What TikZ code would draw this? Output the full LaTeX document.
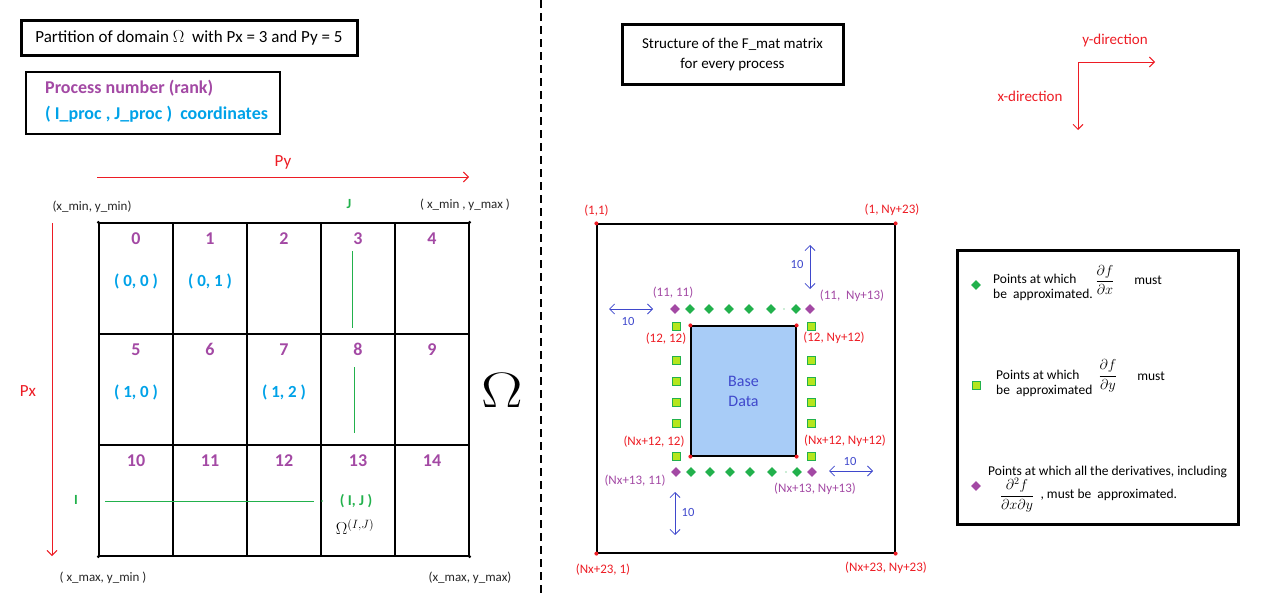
\documentclass[tikz,border=0pt]{standalone}
\usepackage[no-math]{fontspec}
\setmainfont{Carlito}
\usepackage{graphicx}
\usepackage{tikz}
\usetikzlibrary{positioning,shapes.geometric,arrows.meta}
\usepackage{xcolor}
\definecolor{rankpurple}{HTML}{A349A4}
\definecolor{coordcyan}{HTML}{00A2E8}
\definecolor{idxgreen}{HTML}{22B14C}
\definecolor{limegreen}{HTML}{B5E61D}
\definecolor{axisred}{HTML}{ED1C24}
\definecolor{dimblue}{HTML}{3F48CC}
\definecolor{basefill}{HTML}{A8CCF7}
\newcommand{\pxfont}[2]{\fontsize{#1}{#2}\selectfont}

\begin{document}
\begin{tikzpicture}[
      x=1pt, y=-1pt,
      >={Straight Barb[length=5pt,width=10pt]},
      every node/.style={inner sep=0pt, font=\pxfont{13}{15}},
      framebox/.style={draw, line width=3pt, align=center},
      cell/.style={draw, line width=1.2pt, minimum width=74pt, minimum height=111pt},
      rank/.style={text=rankpurple, font=\pxfont{18}{20}\bfseries},
      coordlab/.style={text=coordcyan, font=\pxfont{17}{20}\bfseries},
      cornerlab/.style={text=black!85},
      axisarrow/.style={->, line width=0.9pt, draw=axisred},
      axislab/.style={text=axisred, font=\pxfont{17}{20}},
      idx/.style={line width=1pt, draw=idxgreen},
      idxlab/.style={text=idxgreen, font=\pxfont{14}{16}\bfseries},
      redlab/.style={text=axisred},
      purplelab/.style={text=rankpurple},
      cornerdot/.style={circle, fill=axisred, minimum size=4pt},
      dxmark/.style={diamond, fill=idxgreen, minimum width=10pt, minimum height=10pt},
      dymark/.style={rectangle, draw=idxgreen, fill=limegreen, line width=0.8pt, minimum size=8pt},
      dxymark/.style={diamond, fill=rankpurple, minimum width=10pt, minimum height=10pt},
      dimarrow/.style={<->, line width=0.8pt, draw=dimblue},
      dimlab/.style={text=dimblue, font=\pxfont{12.5}{14}},
      frac/.style={font=\pxfont{14.4}{16}}
    ]
      \useasboundingbox (0,0) rectangle (1268,597);

      % left half: partition of the domain
      \node[framebox, minimum width=336pt, minimum height=35pt, font=\pxfont{17}{20}] (title) at (189,37.5)
        {Partition of domain $\Omega$\ \ with Px = 3 and Py = 5};
      \node[draw, line width=1.2pt, minimum width=254pt, minimum height=62pt] (key) at (153,103) {};
      \node[rank, anchor=west] (keyrank) at (45,88) {Process number (rank)};
      \node[coordlab, font=\pxfont{18}{20}\bfseries, below=26pt of keyrank.west, anchor=west] (keycoord)
        {( I\_proc , J\_proc )\ \ coordinates};

      \foreach \r in {0,1,2}
        \foreach \c in {0,...,4} {
          \pgfmathtruncatemacro{\rk}{5*\r+\c}
          \node[cell] (cell\rk) at ({136+74*\c},{278.5+111*\r}) {};
          \node[rank] (rank\rk) at ([yshift=-16pt]cell\rk.north) {\rk};
        }
      \foreach \a in {cell0.north west,cell4.north east,cell10.south west,cell14.south east}
        \fill (\a) circle (1.6pt);

      \node[coordlab] (coord0) at ([yshift=-3pt]cell0.center) {( 0, 0 )};
      \node[coordlab] (coord1) at ([yshift=-3pt]cell1.center) {( 0, 1 )};
      \node[coordlab] (coord5) at ([yshift=-3pt]cell5.center) {( 1, 0 )};
      \node[coordlab] (coord7) at ([yshift=-3pt]cell7.center) {( 1, 2 )};

      \node[cornerlab] (xminymin) at (92,207) {(x\_min, y\_min)};
      \node[cornerlab] (xminymax) at (465,205) {( x\_min , y\_max )};
      \node[cornerlab] (xmaxymin) at (103,578) {( x\_max, y\_min )};
      \node[cornerlab] (xmaxymax) at (470,578) {(x\_max, y\_max)};

      \draw[axisarrow] (97,177) -- (469,177);
      \node[axislab] (py) at (283,162) {Py};
      \draw[axisarrow] (52,223) -- (52,556);
      \node[axislab] (px) at (28,391) {Px};

      \node[idxlab] (jlab) at (349,204) {J};
      \node[idxlab] (ilab) at (76,500) {I};
      \draw[idx] (352,251) -- (352,328);
      \draw[idx] (354,367) -- (354,433);
      \draw[idx] (105,501) -- (314,501);
      \fill[idxgreen] (322,501) circle (0.8pt);
      \node[idxlab, font=\pxfont{15}{18}\bfseries] (ij) at (356,501) {( I, J )};
      \node[font=\pxfont{17.28}{18}] (omij) at (355,527) {$\Omega^{(I,J)}$};
      \node (omega) at (502,390) {\scalebox{3}[2.4]{\pxfont{20}{20}$\Omega$}};

      \draw[line width=1.2pt, dash pattern=on 8pt off 5pt] (541,0) -- (541,597);

      % right half: one F_mat block
      \node[framebox, minimum width=221pt, minimum height=60pt, font=\pxfont{15}{20}] (fmattitle) at (732.5,54)
        {Structure of the F\_mat matrix\\for every process};
      \coordinate (dir) at (1078,62);
      \draw[axisarrow] (dir) -- ++(77,0);
      \draw[axisarrow] (dir) -- ++(0,68);
      \node[axislab, font=\pxfont{15}{18}] (ydir) at (1115,41) {y-direction};
      \node[axislab, font=\pxfont{15}{18}] (xdir) at (1030,96) {x-direction};

      \node[draw, line width=1.2pt, minimum width=298pt, minimum height=329pt] (fmat) at (746,388.5) {};
      \node[draw, line width=1.2pt, fill=basefill, text=dimblue, align=center, font=\pxfont{16}{20},
            minimum width=105pt, minimum height=130pt] (base) at (743.5,391) {Base\\Data};
      \foreach \a in {north west,north east,south west,south east} {
        \node[cornerdot] at (fmat.\a) {};
        \node[cornerdot] at (base.\a) {};
      }

      \foreach \x in {690,709,729,749,771,796} {
        \node[dxmark] at (\x,309) {};
        \node[dxmark] at ({\x+1},472) {};
      }
      \foreach \y in {326,360,381,402,423,456} {
        \node[dymark] at (676,\y) {};
        \node[dymark] at (811,\y) {};
      }
      \node[dxymark] (c11) at (675,309) {};
      \node[dxymark] (c1n) at (810,309) {};
      \node[dxymark] (cn1) at (676,472) {};
      \node[dxymark] (cnn) at (812,472) {};
      \fill[idxgreen] (784,309) circle (0.7pt);
      \fill[idxgreen] (786,472) circle (0.7pt);

      \draw[dimarrow] (810,245) -- (810,289);
      \node[dimlab] at (797,264) {10};
      \draw[dimarrow] (609,309) -- (653,309);
      \node[dimlab] at (628,321) {10};
      \draw[dimarrow] (829,471) -- (873,471);
      \node[dimlab] at (850,461) {10};
      \draw[dimarrow] (675,492) -- (675,535);
      \node[dimlab] at (688,512) {10};

      \node[redlab, above=7pt of fmat.north west] {(1,1)};
      \node[redlab] at (892,210) {(1, Ny+23)};
      \node[redlab] at (603,570) {(Nx+23, 1)};
      \node[redlab] at (886,568) {(Nx+23, Ny+23)};
      \node[redlab] at (666,339) {(12, 12)};
      \node[redlab] at (834,338) {(12, Ny+12)};
      \node[redlab] at (654,442) {(Nx+12, 12)};
      \node[redlab] at (845,441) {(Nx+12, Ny+12)};
      \node[purplelab] at (673,293) {(11, 11)};
      \node[purplelab] at (852,296) {(11,\ \ Ny+13)};
      \node[purplelab] at (635,481) {(Nx+13, 11)};
      \node[purplelab] at (815,489) {(Nx+13, Ny+13)};

      % legend of the marks
      \node[framebox, minimum width=281pt, minimum height=274pt] (legend) at (1097.5,387) {};
      \node[dxmark] (lgdx) at (976,285) {};
      \node[anchor=west, align=left, font=\pxfont{13.5}{15}] (lgdxtext) at (993,287.5) {Points at which\\be\ \ approximated.};
      \node[frac] (lgdxfrac) at (1105,280) {$\displaystyle\frac{\partial f}{\partial x}$};
      \node[font=\pxfont{13.5}{15}] (lgdxmust) at (1148,280) {must};
      \node[dymark] (lgdy) at (976,385) {};
      \node[anchor=west, align=left, font=\pxfont{13.5}{15}] (lgdytext) at (996,383.5) {Points at which\\be\ \ approximated};
      \node[frac] (lgdyfrac) at (1108,376) {$\displaystyle\frac{\partial f}{\partial y}$};
      \node[font=\pxfont{13.5}{15}] (lgdymust) at (1151,376) {must};
      \node[dxymark] (lgdxy) at (976,486) {};
      \node[anchor=west, font=\pxfont{13.5}{15}] (lgdxytext) at (988,472) {Points at which all the derivatives, including};
      \node[frac] (lgdxyfrac) at (1017,495) {$\displaystyle\frac{\partial^2 f}{\partial x\partial y}$};
      \node[anchor=west, font=\pxfont{13.5}{15}, right=6pt of lgdxyfrac] (lgdxyend) {, must be\ \ approximated.};
    \end{tikzpicture}
\end{document}
